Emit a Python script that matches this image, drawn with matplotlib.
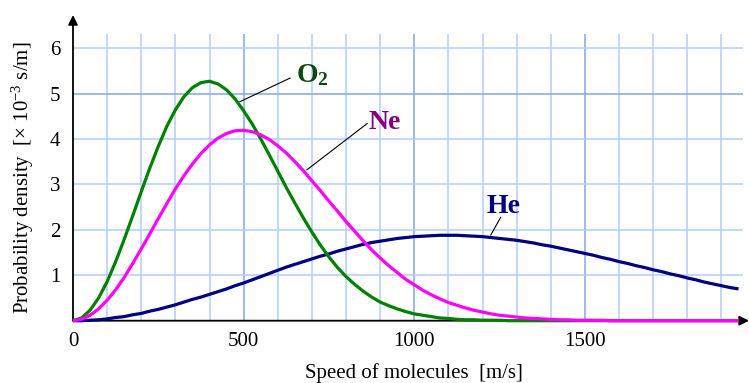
import matplotlib
matplotlib.use("Agg")
import matplotlib.pyplot as plt

plt.rcParams["font.family"] = ["Liberation Serif", "DejaVu Serif"]
plt.rcParams["mathtext.fontset"] = "custom"
plt.rcParams["mathtext.rm"] = "Liberation Serif"
plt.rcParams["mathtext.it"] = "Liberation Serif:italic"
plt.rcParams["mathtext.bf"] = "Liberation Serif:bold"

# Speed of molecules [m/s]
speed = [0, 25, 50, 75, 100, 125, 150, 175, 200, 225,
         250, 275, 300, 325, 350, 375, 400, 425, 450, 475,
         500, 525, 550, 575, 600, 625, 650, 675, 700, 725,
         750, 775, 800, 825, 850, 875, 900, 925, 950, 975,
         1000, 1025, 1050, 1075, 1100, 1125, 1150, 1175, 1200, 1225,
         1250, 1275, 1300, 1325, 1350, 1375, 1400, 1425, 1450, 1475,
         1500, 1525, 1550, 1575, 1600, 1625, 1650, 1675, 1700, 1725,
         1750, 1775, 1800, 1825, 1850, 1875, 1900, 1925, 1950]

# Probability density [x 10^-3 s/m]
o2 = [0.00, 0.06, 0.23, 0.50, 0.86, 1.30, 1.79, 2.31, 2.84, 3.36,
      3.84, 4.28, 4.64, 4.93, 5.13, 5.24, 5.27, 5.21, 5.08, 4.88,
      4.62, 4.33, 4.00, 3.65, 3.29, 2.93, 2.59, 2.26, 1.95, 1.66,
      1.40, 1.17, 0.97, 0.80, 0.65, 0.52, 0.41, 0.33, 0.26, 0.20,
      0.15, 0.12, 0.09, 0.06, 0.05, 0.03, 0.02, 0.02, 0.01, 0.01,
      0.01, 0.00, 0.00, 0.00, 0.00, 0.00, 0.00, 0.00, 0.00, 0.00,
      0.00, 0.00, 0.00, 0.00, 0.00, 0.00, 0.00, 0.00, 0.00, 0.00,
      0.00, 0.00, 0.00, 0.00, 0.00, 0.00, 0.00, 0.00, 0.00]

ne = [0.00, 0.03, 0.12, 0.26, 0.45, 0.68, 0.95, 1.26, 1.58, 1.91,
      2.25, 2.58, 2.90, 3.19, 3.45, 3.68, 3.87, 4.02, 4.12, 4.18,
      4.19, 4.16, 4.09, 3.99, 3.85, 3.69, 3.50, 3.30, 3.08, 2.86,
      2.63, 2.41, 2.18, 1.97, 1.76, 1.56, 1.38, 1.21, 1.06, 0.91,
      0.79, 0.67, 0.57, 0.48, 0.40, 0.34, 0.28, 0.23, 0.19, 0.15,
      0.12, 0.10, 0.08, 0.06, 0.05, 0.04, 0.03, 0.02, 0.02, 0.01,
      0.01, 0.01, 0.01, 0.00, 0.00, 0.00, 0.00, 0.00, 0.00, 0.00,
      0.00, 0.00, 0.00, 0.00, 0.00, 0.00, 0.00, 0.00, 0.00]

he = [0.00, 0.00, 0.01, 0.02, 0.04, 0.07, 0.09, 0.13, 0.16, 0.21,
      0.25, 0.30, 0.35, 0.41, 0.47, 0.52, 0.58, 0.64, 0.70, 0.77,
      0.83, 0.90, 0.97, 1.04, 1.11, 1.18, 1.24, 1.30, 1.36, 1.42,
      1.47, 1.53, 1.58, 1.63, 1.68, 1.72, 1.75, 1.78, 1.81, 1.83,
      1.85, 1.86, 1.87, 1.88, 1.88, 1.88, 1.87, 1.86, 1.85, 1.83,
      1.81, 1.79, 1.77, 1.74, 1.71, 1.67, 1.64, 1.60, 1.56, 1.52,
      1.48, 1.44, 1.39, 1.35, 1.30, 1.26, 1.21, 1.17, 1.12, 1.08,
      1.03, 0.99, 0.94, 0.90, 0.85, 0.81, 0.77, 0.73, 0.70]

x_ticks = [0, 500, 1000, 1500]
y_ticks = [1, 2, 3, 4, 5, 6]

fig = plt.figure(figsize=(7.49, 3.83), dpi=100)
ax = fig.add_axes([73 / 749, 62.3 / 383, 670 / 749, 286.7 / 383])
ax.set_xlim(0, 1963)
ax.set_ylim(0, 6.31)

# graph-paper grid
minor_c = "#b3cdfb"
major_c = "#80a6ee"
for gx in range(100, 2000, 100):
    ax.axvline(gx, color=major_c if gx % 500 == 0 else minor_c,
               lw=1.1, zorder=0.5)
for gy in y_ticks:
    ax.axhline(gy, color=major_c if gy == 5 else minor_c, lw=1.1, zorder=0.5)

for s in ax.spines.values():
    s.set_visible(False)

# axes with arrow heads
ax.annotate("", xy=(0, 1.066), xycoords="axes fraction", xytext=(0, 0),
            textcoords="axes fraction",
            arrowprops=dict(arrowstyle="-|>", color="black", lw=1.3,
                            mutation_scale=14, shrinkA=0, shrinkB=0),
            zorder=1)
ax.annotate("", xy=(1.009, 0), xycoords="axes fraction", xytext=(0, 0),
            textcoords="axes fraction",
            arrowprops=dict(arrowstyle="-|>", color="black", lw=1.3,
                            mutation_scale=14, shrinkA=0, shrinkB=0),
            zorder=1)

ax.plot(speed, he, color="#000080", lw=2.3, zorder=3, clip_on=False,
        solid_capstyle="butt", solid_joinstyle="round")
ax.plot(speed, o2, color="#008000", lw=2.3, zorder=3.1, clip_on=False,
        solid_capstyle="butt", solid_joinstyle="round")
ax.plot(speed, ne, color="#ff00ff", lw=2.3, zorder=3.2, clip_on=False,
        solid_capstyle="butt", solid_joinstyle="round")

ax.set_xticks(x_ticks)
ax.set_xticklabels([str(v) for v in x_ticks])
ax.set_yticks(y_ticks)
ax.set_yticklabels([str(v) for v in y_ticks])
ax.tick_params(axis="both", length=0, labelsize=15)
ax.tick_params(axis="y", pad=9)
ax.tick_params(axis="x", pad=8)

fig.text(414 / 749, 0.012, "Speed of molecules  [m/s]", ha="center",
         va="baseline", fontsize=15)
fig.text(23 / 749, (383 - 177.5) / 383,
         "Probability density  [\u00d7 10$^{-3}$ s/m]", rotation=90,
         ha="center", va="center", fontsize=15)

# curve labels with leader lines
ax.text(653, 5.25, r"O$_{\mathbf{2}}$", color="#0d4a0d", fontsize=20,
        fontweight="bold", ha="left", va="baseline", zorder=5)
ax.plot([636, 489], [5.34, 4.82], color="black", lw=0.8, zorder=4)

ax.text(865, 4.23, "Ne", color="#800080", fontsize=20, fontweight="bold",
        ha="left", va="baseline", zorder=5)
ax.plot([862, 685], [4.34, 3.32], color="black", lw=0.8, zorder=4)

ax.text(1212, 2.37, "He", color="#000080", fontsize=20, fontweight="bold",
        ha="left", va="baseline", zorder=5)
ax.plot([1253, 1224], [2.275, 1.886], color="black", lw=0.8, zorder=4)

fig.savefig("out.png", dpi=100)
